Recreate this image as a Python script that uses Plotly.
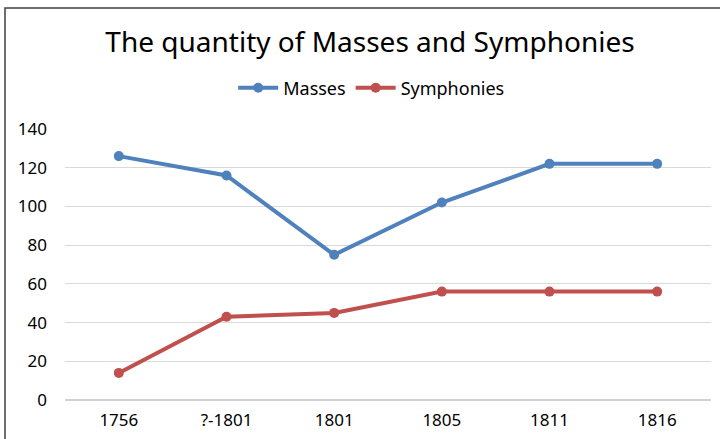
import plotly.graph_objects as go

categories = ["1756", "?-1801", "1801", "1805", "1811", "1816"]
masses = [126, 116, 75, 102, 122, 122]
symphonies = [14, 43, 45, 56, 56, 56]

BLUE = "#4f81bd"
RED = "#c0504d"

fig = go.Figure()
fig.add_trace(go.Scatter(x=categories, y=masses, name="Masses", mode="lines+markers",
                         line=dict(color=BLUE, width=4), marker=dict(color=BLUE, size=10)))
fig.add_trace(go.Scatter(x=categories, y=symphonies, name="Symphonies", mode="lines+markers",
                         line=dict(color=RED, width=4), marker=dict(color=RED, size=10)))

fig.update_layout(
    width=720, height=439,
    margin=dict(l=65, r=9, t=129, b=39),
    paper_bgcolor="white", plot_bgcolor="white",
    title=dict(text="The quantity of Masses and Symphonies", x=370/720, xanchor="center",
               y=1 - 42/439, yanchor="middle",
               font=dict(family="Noto Sans", size=28, color="#000000")),
    legend=dict(orientation="h", x=0.474, xanchor="center", y=1.151, yanchor="middle",
                font=dict(family="Noto Sans", size=18, color="#000000"), itemwidth=40,
                bgcolor="rgba(0,0,0,0)"),
    font=dict(family="Noto Sans", color="#000000"),
    xaxis=dict(type="category", range=[-0.5, 5.5], showgrid=False, showline=False, ticks="",
               ticklabelstandoff=8, tickfont=dict(size=17, color="#000000")),
    yaxis=dict(range=[0, 140], dtick=20, showgrid=True, gridcolor="#d9d9d9", gridwidth=1,
               zeroline=True, zerolinecolor="#d0d0d0", zerolinewidth=2,
               showline=False, ticks="", ticklabelstandoff=17,
               tickfont=dict(size=17, color="#000000")),
)
fig.add_shape(type="rect", xref="paper", yref="paper",
              x0=(5 - 65) / 646, x1=(722 - 65) / 646, y0=(400 - 445) / 271, y1=(400 - 8) / 271,
              line=dict(color="#404040", width=1.5), fillcolor="rgba(0,0,0,0)", layer="below")
fig.write_html("out.html", config={"displayModeBar": False},
               post_script="document.body.style.margin='0';")
